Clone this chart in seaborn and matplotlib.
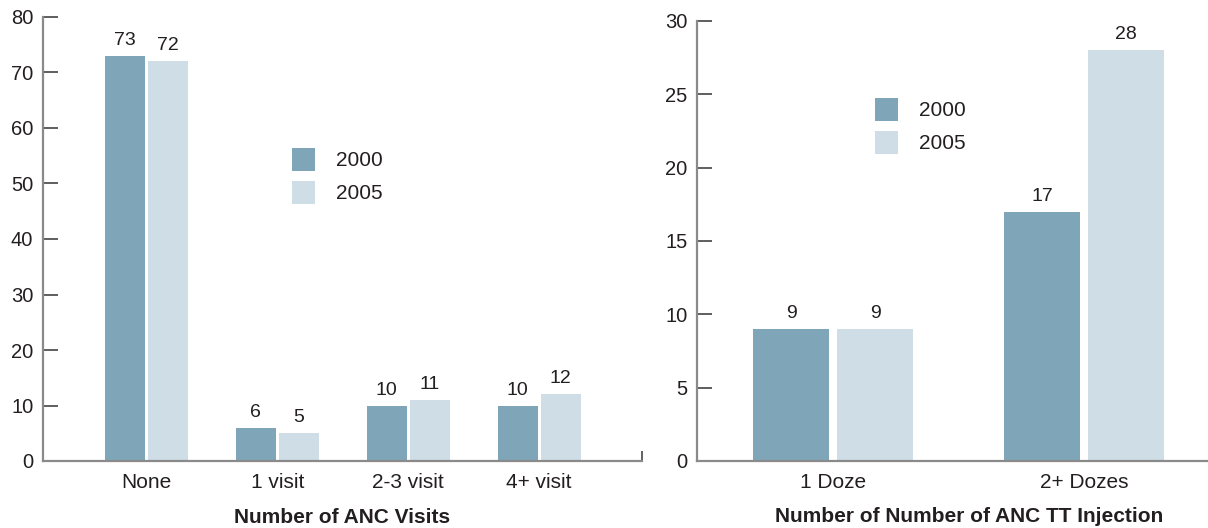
import matplotlib
matplotlib.use("Agg")
import matplotlib.pyplot as plt
import seaborn as sns
import pandas as pd

# ANC visits
visit_cats = ["None", "1 visit", "2-3 visit", "4+ visit"]
visits_2000 = [73, 6, 10, 10]
visits_2005 = [72, 5, 11, 12]

# TT injection doses
dose_cats = ["1 Doze", "2+ Dozes"]
doses_2000 = [9, 17]
doses_2005 = [9, 28]

years = ["2000", "2005"]
colors = ["#7FA6B8", "#CFDDE6"]

sns.set_theme(style="white")
plt.rcParams["font.family"] = ["Liberation Sans", "DejaVu Sans"]
TXT = "#231F20"


def long_frame(cats, a, b):
    return pd.DataFrame({
        "cat": cats * 2,
        "val": a + b,
        "year": [years[0]] * len(cats) + [years[1]] * len(cats),
    })


fig = plt.figure(figsize=(12.08, 5.28), dpi=100)
W, H = 1208, 528
ax1 = fig.add_axes([43 / W, (528 - 461) / H, (642 - 43) / W, (461 - 17) / H])
ax2 = fig.add_axes([697 / W, (528 - 461) / H, (1208 - 697) / W, (461 - 21) / H])


def draw(ax, df, cats, width, gap, xlim, ylim, yticks, xlabel, label_x, leg_xy):
    sns.barplot(data=df, x="cat", y="val", hue="year", order=cats,
                hue_order=years, palette=colors, saturation=1,
                width=width, gap=gap, errorbar=None, linewidth=0, ax=ax)
    for cont in ax.containers:
        ax.bar_label(cont, padding=5, fontsize=14, color=TXT)
    ax.set_xlim(*xlim)
    ax.set_ylim(*ylim)
    ax.set_yticks(yticks)
    ax.set_ylabel("")
    ax.set_xlabel(xlabel, fontsize=15, fontweight="bold", color=TXT)
    ax.xaxis.set_label_coords(label_x, -0.105)
    for s in ("top", "right"):
        ax.spines[s].set_visible(False)
    for s in ("left", "bottom"):
        ax.spines[s].set_color("#8A8A8A")
        ax.spines[s].set_linewidth(1.6)
    ax.tick_params(axis="y", left=True, direction="in", length=11, width=1.1,
                   color="#333333", pad=7, labelsize=14.5, labelcolor=TXT)
    ax.tick_params(axis="x", bottom=False, length=0, pad=9, labelsize=15,
                   labelcolor=TXT)
    leg = ax.legend(loc="upper left", bbox_to_anchor=leg_xy, frameon=False,
                    fontsize=15, handlelength=1.1, handleheight=1.3,
                    handletextpad=1.0, labelspacing=0.5, borderpad=0,
                    borderaxespad=0)
    for t in leg.get_texts():
        t.set_color(TXT)


draw(ax1, long_frame(visit_cats, visits_2000, visits_2005), visit_cats,
     0.656, 0.07, (-0.79, 3.786), (0, 80), range(0, 81, 10),
     "Number of ANC Visits", 0.5, (0.416, 0.705))
# small end mark on the right of the category axis
ax1.set_xticks([3.786], minor=True)
ax1.tick_params(axis="x", which="minor", bottom=True, direction="in",
                length=7, width=1.3, color="#555555")

draw(ax2, long_frame(dose_cats, doses_2000, doses_2005), dose_cats,
     0.67, 0.095, (-0.544, 1.495), (0, 30), range(0, 31, 5),
     "Number of Number of ANC TT Injection", 0.532, (0.348, 0.825))

fig.savefig("out.png", dpi=100)
